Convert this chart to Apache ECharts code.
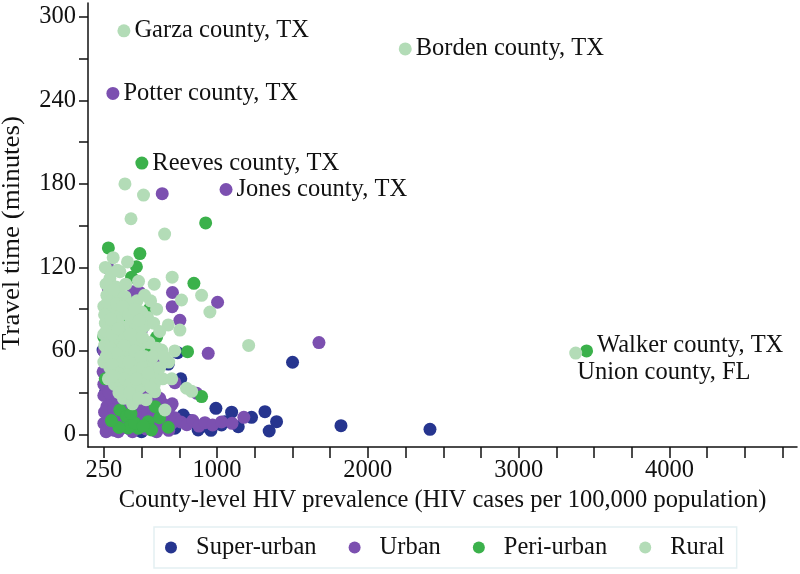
<!DOCTYPE html>
<html>
<head>
<meta charset="utf-8">
<script src="https://cdn.jsdelivr.net/npm/echarts@6/dist/echarts.min.js"></script>
<style>html,body{margin:0;padding:0;background:#fff}#c{width:800px;height:574px}</style>
</head>
<body>
<div id="c"></div>
<script>
// ---- Data (x = HIV prevalence per 100,000; y = travel time in minutes) ----
const seriesNames = ['Super-urban', 'Urban', 'Peri-urban', 'Rural'];
const seriesColors = ['#26358f', '#7c50b0', '#3bb14b', '#b3dcb7'];

const superUrban = [
  [2412,3.7],[1822,6.3],[1501,51.9],[1346,2.5],[1395,9.2],[1318,16.4],[1229,12.3],[1141,5.6],
  [1097,16],[1052,9.2],[1030,6.8],[993,18.8],[898,5.6],[875,3.2],[776,14],[721,4.5],[739,58.8],
  [677,50.6],[544,35.6],[533,24.8],[411,37],[245,60.7],[760,40],[640,6],[500,2],[300,15],
  [260,30],[960,3],[820,10]
];
const urban = [
  [310,245],[1060,176],
  [637,173],[283,119],[280,104],[444,102.6],[489,102],[705,102],[1004,95],[703,91.8],[754,82],
  [942,58.3],[1676,66],[555,44],[721,37.2],[865,29.6],[703,22],[1178,12.3],
  [300,85],[420,70],[250,60],[500,75],[600,55],
  [250,28],[270,20],[290,12],[250,8],[280,4],[310,24],[330,16],[350,8],[320,3],[370,28],[390,20],
  [410,10],[380,5],[430,25],[450,16],[470,6],[440,2],[490,20],[510,12],[530,4],[500,28],[560,18],
  [580,8],[600,14],[620,5],[640,22],[660,10],[700,8],[720,12],[260,40],[250,36],[300,34],[680,3],
  [760,9],[800,7],[840,10],[880,6],[920,8.5],[971,6.8],[1030,9],[1100,8],[620,26],[560,30],
  [255,16],[265,2],[285,30],[300,6],[315,18],[340,26],[345,2],[360,14],[400,28],[420,4],[425,18],
  [460,24],[480,12],[520,22],[540,16],[550,6],[590,24],[610,18],[640,12],[670,16],[690,20],[260,48],
  [245,45],[600,2],[570,12]
];
const periUrban = [
  [502,195],[3450,60],
  [925,152],[280,134],[489,130],[466,120.5],[434,113],[280,108.6],[847,108.6],[555,90.6],[805,59.5],
  [898,27.2],[356,17.6],[400,12.8],[478,4.5],[544,9.2],[566,3.2],[411,4.7],[455,8.3],[378,32],
  [323,45],[677,5.2],[300,96],[370,85],[250,70],[540,60],[260,40],[600,70],[430,15],[510,6],
  [620,12],[350,5],[300,10],[590,20]
];
const rural = [
  [383,290],[2248,277],[3378,58.5],
  [390,180],[513,172],[430,155],[653,144],[312,127],[407,124],[356,117],[703,113],[584,108],[898,100],
  [765,96.6],[953,88],[677,78.7],[754,75],[1210,64],[798,33.2],[832,31],[655,17.6],[588,30.7],[633,60.7],
  [260,120],[290,112],[330,106],[270,100],[310,97],[350,102],[390,99],[430,94],[470,96],[250,92],
  [280,88],[320,90],[360,86],[400,88],[440,85],[500,88],[540,84],[260,80],[300,78],[340,82],[380,77],
  [420,79],[460,76],[520,78],[580,80],[620,74],[250,72],[290,70],[330,68],[370,71],[410,66],[450,69],
  [490,64],[550,66],[600,62],[270,62],[310,58],[350,60],[390,56],[430,58],[470,54],[520,56],[560,50],
  [250,52],[290,48],[330,50],[370,46],[420,44],[460,48],[510,42],[600,44],[640,40],[280,40],[320,36],
  [360,38],[400,32],[450,30],[490,34],[540,38],[380,26],[440,22],[530,25],[700,40],[720,60],[680,52],
  [265,108],[300,116],[340,118],[275,95],[315,104],[355,94],[395,108],[255,86],[295,83],[335,94],
  [375,92],[415,86],[455,90],[485,82],[265,74],[305,72],[345,76],[385,64],[425,72],[465,66],[505,70],
  [255,64],[295,62],[335,58],[375,52],[415,52],[455,60],[495,56],[535,48],[575,56],[265,56],[305,50],
  [345,44],[385,40],[425,36],[465,40],[505,48],[545,44],[585,36],[310,42],[350,30],[420,30],[480,26],
  [560,34],[620,48],[650,56],[600,90],[560,96],[520,100],[480,110]
];

// Annotated counties: [series index, point index in that series, text, placement]
const annotations = [
  [3, 0, 'Garza county, TX', 'right'],
  [3, 1, 'Borden county, TX', 'right'],
  [1, 0, 'Potter county, TX', 'right'],
  [2, 0, 'Reeves county, TX', 'right'],
  [1, 1, 'Jones county, TX', 'right'],
  [2, 1, 'Walker county, TX', 'rightUp'],
  [3, 2, 'Union county, FL', 'below']
];

const xTickValues = [250,500,750,1000,1250,1500,1750,2000,2250,2500,2750,3000,3250,3500,3750,4000,4250,4500,4750];
const xLabelValues = [250,1000,2000,3000,4000];
const yTickValues = [0,30,60,90,120,150,180,210,240,270,300];
const yLabelValues = [0,60,120,180,240,300];
const xTitle = 'County-level HIV prevalence (HIV cases per 100,000 population)';
const yTitle = 'Travel time (minutes)';

// ---- Chart ----
const FONT = '"Liberation Serif", "Times New Roman", serif';
const FS = 24.5;
const allData = [superUrban, urban, periUrban, rural];

function labelCfg(place, text) {
  const base = { show: true, formatter: text, color: '#111', fontFamily: FONT, fontSize: FS };
  if (place === 'right') return Object.assign(base, { position: 'right', distance: 4 });
  if (place === 'rightUp') return Object.assign(base, { position: 'right', distance: 4, offset: [0, -5] });
  return Object.assign(base, { position: [8, 14], align: 'left', verticalAlign: 'top' });
}

const series = allData.map((arr, si) => ({
  name: seriesNames[si],
  type: 'scatter',
  symbolSize: 13,
  itemStyle: { color: seriesColors[si], opacity: 1 },
  data: arr.map((p, pi) => {
    const a = annotations.find(r => r[0] === si && r[1] === pi);
    if (a) return { value: p, label: labelCfg(a[3], a[2]) };
    return p;
  })
}));

const chart = echarts.init(document.getElementById('c'), null, { renderer: 'canvas' });
chart.setOption({
  animation: false,
  backgroundColor: '#fff',
  textStyle: { fontFamily: FONT },
  grid: { left: 88, right: 3, top: 3, bottom: 127, containLabel: false },
  legend: {
    data: seriesNames,
    left: 154, top: 527,
    icon: 'circle', itemWidth: 12, itemHeight: 12, itemGap: 32,
    borderColor: '#e4f0f2', borderWidth: 1.5,
    padding: [8, 12, 8, 11],
    textStyle: { fontFamily: FONT, fontSize: FS, color: '#111', padding: [0, 0, 0, 14] }
  },
  graphic: [{
    type: 'text', x: 13, y: 233, rotation: Math.PI / 2, scaleX: 1.1, scaleY: 1,
    style: { text: yTitle, fontFamily: FONT, fontSize: FS, fill: '#111', align: 'center', verticalAlign: 'middle' }
  }],
  xAxis: {
    type: 'value', min: 145, max: 4845,
    name: xTitle,
    nameLocation: 'middle', nameGap: 36,
    nameTextStyle: { fontFamily: FONT, fontSize: FS, color: '#111' },
    axisLine: { onZero: false, lineStyle: { color: '#111', width: 1.5 } },
    axisTick: { show: true, length: 11, customValues: xTickValues, lineStyle: { color: '#111', width: 1.5 } },
    axisLabel: { customValues: xLabelValues, formatter: v => String(v), margin: 11, fontFamily: FONT, fontSize: FS, color: '#111' },
    splitLine: { show: false }
  },
  yAxis: {
    type: 'value', min: -9, max: 310,
    axisLine: { onZero: false, lineStyle: { color: '#111', width: 1.5 } },
    axisTick: { show: true, length: 9, customValues: yTickValues, lineStyle: { color: '#111', width: 1.5 } },
    axisLabel: { customValues: yLabelValues, formatter: v => String(v), margin: 12, fontFamily: FONT, fontSize: FS, color: '#111' },
    splitLine: { show: false }
  },
  series: series
});
</script>
</body>
</html>
